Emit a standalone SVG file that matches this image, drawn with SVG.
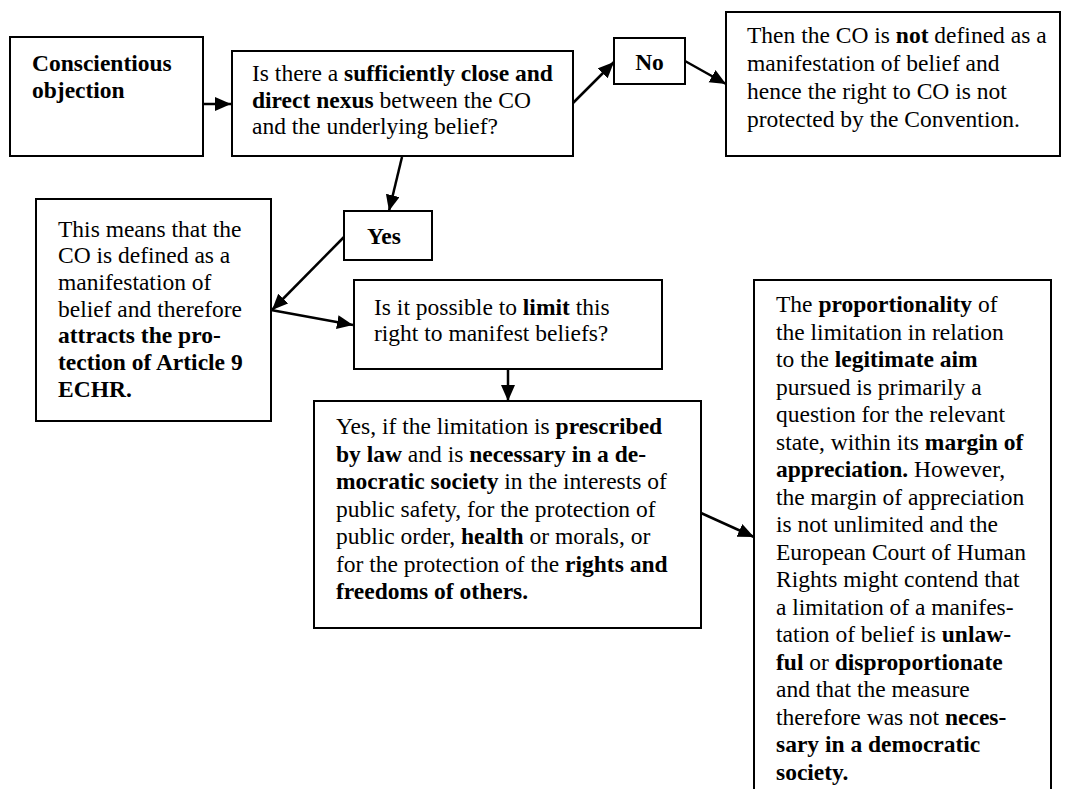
<svg xmlns="http://www.w3.org/2000/svg" width="1075" height="789" viewBox="0 0 1075 789">
<defs>
<style>
.box{fill:#fff;stroke:#000;stroke-width:2}
.t{font-family:"Liberation Serif","Times New Roman",serif;font-size:23.5px;fill:#000}
.b{font-weight:bold}
.c{stroke:#000;stroke-width:2.5;fill:none;marker-end:url(#ah)}
</style>
<marker id="ah" markerUnits="userSpaceOnUse" markerWidth="18" markerHeight="16" refX="16" refY="7" orient="auto">
<path d="M0,0 L16,7 L0,14 z" fill="#000"/>
</marker>
</defs>
<rect width="1075" height="789" fill="#fff"/>
<g id="connectors">
<line class="c" x1="203" y1="104" x2="231" y2="104"/>
<line class="c" x1="572" y1="104" x2="614" y2="62"/>
<line class="c" x1="685" y1="61" x2="726" y2="84"/>
<line class="c" x1="402" y1="157" x2="389" y2="211"/>
<line class="c" x1="344" y1="237" x2="272" y2="310"/>
<line class="c" x1="271" y1="310" x2="353" y2="325"/>
<line class="c" x1="508" y1="370" x2="508" y2="401"/>
<line class="c" x1="701" y1="513" x2="754" y2="537"/>
</g>
<g id="n-co">
<rect class="box" x="10" y="37" width="193" height="119"/>
<text class="t b" x="32" y="71">Conscientious</text>
<text class="t b" x="32" y="98">objection</text>
</g>
<g id="n-nexus">
<rect class="box" x="232" y="51" width="341" height="105"/>
<text class="t" x="252" y="81">Is there a <tspan class="b">sufficiently close and</tspan></text>
<text class="t" x="252" y="108"><tspan class="b">direct nexus</tspan> between the CO</text>
<text class="t" x="252" y="134">and the underlying belief?</text>
</g>
<g id="n-no">
<rect class="box" x="614" y="38" width="71" height="46"/>
<text class="t b" x="649.5" y="70" text-anchor="middle">No</text>
</g>
<g id="n-notprotected">
<rect class="box" x="726" y="12" width="334" height="144"/>
<text class="t" x="747" y="43">Then the CO is <tspan class="b">not</tspan> defined as a</text>
<text class="t" x="747" y="71">manifestation of belief and</text>
<text class="t" x="747" y="99">hence the right to CO is not</text>
<text class="t" x="747" y="127">protected by the Convention.</text>
</g>
<g id="n-yes">
<rect class="box" x="344" y="211" width="88" height="49"/>
<text class="t b" x="367" y="244">Yes</text>
</g>
<g id="n-manifestation">
<rect class="box" x="36" y="199" width="235" height="222"/>
<text class="t" x="58" y="237">This means that the</text>
<text class="t" x="58" y="263">CO is defined as a</text>
<text class="t" x="58" y="290">manifestation of</text>
<text class="t" x="58" y="317">belief and therefore</text>
<text class="t b" x="58" y="343">attracts the pro-</text>
<text class="t b" x="58" y="370">tection of Article 9</text>
<text class="t b" x="58" y="397">ECHR.</text>
</g>
<g id="n-limit">
<rect class="box" x="354" y="280" width="308" height="89"/>
<text class="t" x="374" y="315">Is it possible to <tspan class="b">limit</tspan> this</text>
<text class="t" x="374" y="341">right to manifest beliefs?</text>
</g>
<g id="n-conditions">
<rect class="box" x="314" y="401" width="387" height="227"/>
<text class="t" x="336" y="434">Yes, if the limitation is <tspan class="b">prescribed</tspan></text>
<text class="t" x="336" y="462"><tspan class="b">by law</tspan> and is <tspan class="b">necessary in a de-</tspan></text>
<text class="t" x="336" y="489"><tspan class="b">mocratic society</tspan> in the interests of</text>
<text class="t" x="336" y="517">public safety, for the protection of</text>
<text class="t" x="336" y="544">public order, <tspan class="b">health</tspan> or morals, or</text>
<text class="t" x="336" y="572">for the protection of the <tspan class="b">rights and</tspan></text>
<text class="t b" x="336" y="599">freedoms of others.</text>
</g>
<g id="n-proportionality">
<rect class="box" x="754" y="280" width="297" height="530"/>
<text class="t" x="776" y="312">The <tspan class="b">proportionality</tspan> of</text>
<text class="t" x="776" y="339.5">the limitation in relation</text>
<text class="t" x="776" y="367">to the <tspan class="b">legitimate aim</tspan></text>
<text class="t" x="776" y="394.5">pursued is primarily a</text>
<text class="t" x="776" y="422">question for the relevant</text>
<text class="t" x="776" y="449.5">state, within its <tspan class="b">margin of</tspan></text>
<text class="t" x="776" y="477"><tspan class="b">appreciation.</tspan> However,</text>
<text class="t" x="776" y="504.5">the margin of appreciation</text>
<text class="t" x="776" y="532">is not unlimited and the</text>
<text class="t" x="776" y="559.5">European Court of Human</text>
<text class="t" x="776" y="587">Rights might contend that</text>
<text class="t" x="776" y="614.5">a limitation of a manifes-</text>
<text class="t" x="776" y="642">tation of belief is <tspan class="b">unlaw-</tspan></text>
<text class="t" x="776" y="669.5"><tspan class="b">ful</tspan> or <tspan class="b">disproportionate</tspan></text>
<text class="t" x="776" y="697">and that the measure</text>
<text class="t" x="776" y="724.5">therefore was not <tspan class="b">neces-</tspan></text>
<text class="t b" x="776" y="752">sary in a democratic</text>
<text class="t b" x="776" y="779.5">society.</text>
</g>
</svg>
